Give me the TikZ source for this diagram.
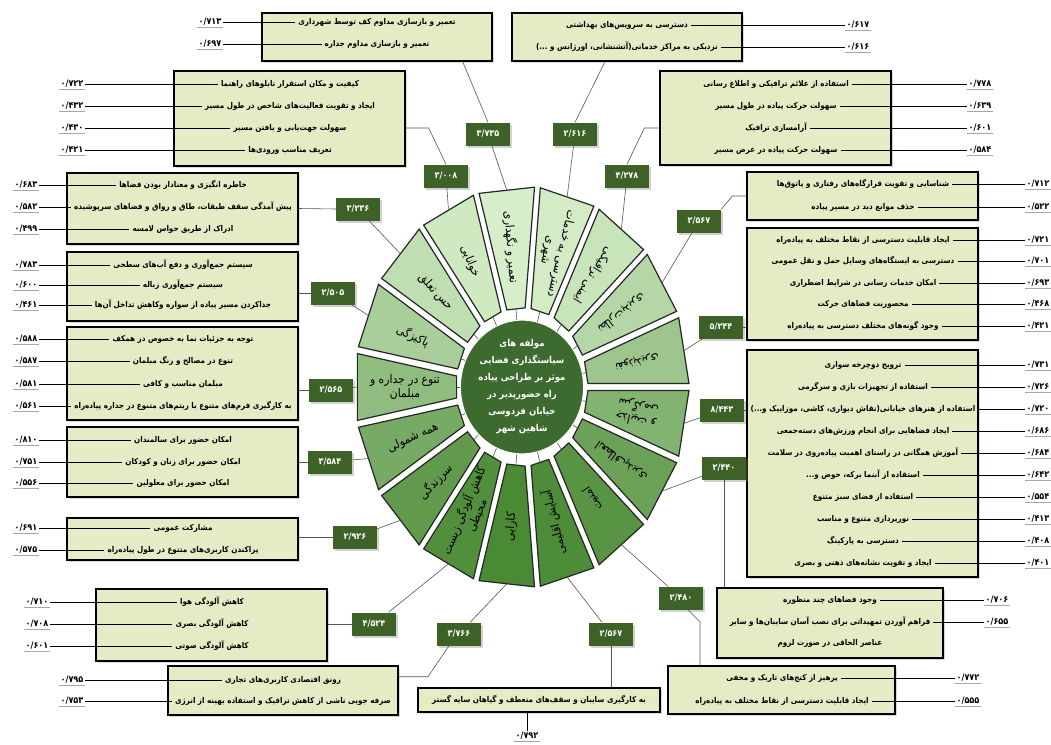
\documentclass[tikz,border=0pt]{standalone}
\usepackage{fontspec}
\usepackage{xcolor}
\usepackage{tikz}
\usetikzlibrary{shapes.geometric,shadows}
\TeXXeTstate=1
\newfontfamily\farsi[Script=Arabic]{DejaVu Sans Condensed}
\newcommand\rtltxt[1]{{\farsi\beginR#1\endR}}
\definecolor{seglight}{HTML}{D6EEC9}
\definecolor{segdark}{HTML}{4A8A35}
\definecolor{valgreen}{HTML}{3E6128}
\definecolor{critfill}{HTML}{E5EBC5}
\definecolor{corefill}{HTML}{3D6A2F}
\definecolor{linegray}{HTML}{555555}

\begin{document}
\begin{tikzpicture}[x=1pt,y=-1pt,
  crit/.style={draw=black,line width=1.3pt,fill=critfill,inner sep=0pt,
    drop shadow={shadow xshift=2pt,shadow yshift=-2pt,opacity=.3}},
  valbox/.style={fill=valgreen,text=white,inner sep=1pt,
    font=\farsi\bfseries\fontsize{9}{11}\selectfont,
    minimum width=44pt,minimum height=23pt,
    drop shadow={shadow xshift=2pt,shadow yshift=-2pt,opacity=.35}},
  item/.style={font=\bfseries\fontsize{8}{10}\selectfont,inner sep=3pt},
  load/.style={font=\farsi\bfseries\fontsize{9}{11}\selectfont,inner sep=1.5pt,
    append after command={(\tikzlastnode.south west) edge[draw=gray!70,line width=.8pt] (\tikzlastnode.south east)}},
  tie/.style={line width=.9pt},
  conn/.style={draw=linegray,line width=.6pt},
  seglabel/.style={font=\fontsize{12}{14}\selectfont,align=center,inner sep=0pt},
]
\fill[white] (0,0) rectangle (1051,744);
\useasboundingbox (0,0) rectangle (1051,744);

% wheel
\begin{scope}[shift={(522,387)},yscale=-1.2]
\foreach \a/\txt [count=\k from 0] in {
  95.3/{\rtltxt{تعمیر و نگهداری}},
  74.1/{\rtltxt{دسترسی به خدمات}\\\rtltxt{شهری}},
  52.9/{\rtltxt{ایمنی ترافیکی}},
  31.8/{\rtltxt{نظارت‌پذیری}},
  10.6/{\rtltxt{نفوذپذیری}},
  -10.6/{\rtltxt{جذابیت و}\\\rtltxt{سرگرمی}},
  -31.8/{\rtltxt{انعطاف‌پذیری}},
  -52.9/{\rtltxt{امنیت}},
  -74.1/{\rtltxt{آسایش اقلیمی}},
  -95.3/{\rtltxt{کارایی}},
  -116.5/{\rtltxt{کاهش آلودگی زیست}\\\rtltxt{محیطی}},
  -137.6/{\rtltxt{سرزندگی}},
  -158.8/{\rtltxt{همه شمولی}},
  -180/{\rtltxt{تنوع در جداره و}\\\rtltxt{مبلمان}},
  158.8/{\rtltxt{پاکیزگی}},
  137.6/{\rtltxt{حس تعلق}},
  116.5/{\rtltxt{خوانایی}}}{
  \pgfmathsetmacro\mixp{50*(1-sin(\a))}
  \pgfmathsetmacro\rot{atan2(1.2*sin(\a),cos(\a))-180}
  \filldraw[draw=black!85,line width=1.2pt,fill=segdark!\mixp!seglight]
    ({\a-8}:66) -- ({\a-9.6}:167) -- ({\a+9.6}:167) -- ({\a+8}:66) -- cycle;
  \coordinate (segin\k) at (\a:65);
  \coordinate (segout\k) at (\a:164.7);
  \node[seglabel,rotate=\rot] (seg\k) at (\a:117) {\txt};
}
\end{scope}

\node[ellipse,fill=corefill,draw=white,line width=1pt,minimum width=94pt,minimum height=112pt,
  inner sep=0pt,text=white,align=center,font=\bfseries\fontsize{9.5}{17}\selectfont] (core) at (522,387)
  {\rtltxt{مولفه های}\\\rtltxt{سیاستگذاری فضایی}\\\rtltxt{موثر بر طراحی پیاده}\\\rtltxt{راه حضورپذیر در}\\\rtltxt{خیابان فردوسی}\\\rtltxt{شاهین شهر}};
\foreach \k in {0,...,16} \draw[conn] (core) -- (segin\k);

% criteria boxes
\node[crit,minimum width=230pt,minimum height=48pt] (boxA) at (377,37) {};
\node[crit,minimum width=230pt,minimum height=48pt] (boxB) at (627,37) {};
\node[crit,minimum width=231pt,minimum height=95pt] (boxC) at (289.5,118.5) {};
\node[crit,minimum width=231pt,minimum height=94pt] (boxD) at (775.5,118) {};
\node[crit,minimum width=231pt,minimum height=71pt] (boxE) at (182.5,208.5) {};
\node[crit,minimum width=231pt,minimum height=48pt] (boxF) at (862.5,196) {};
\node[crit,minimum width=231pt,minimum height=112pt] (boxG) at (862.5,284) {};
\node[crit,minimum width=231pt,minimum height=69pt] (boxQ) at (182.5,286.5) {};
\node[crit,minimum width=231pt,minimum height=93pt] (boxP) at (182.5,373.5) {};
\node[crit,minimum width=231pt,minimum height=70pt] (boxO) at (182.5,462) {};
\node[crit,minimum width=231pt,minimum height=42pt] (boxN) at (182.5,539) {};
\node[crit,minimum width=231pt,minimum height=227pt] (boxH) at (862.5,463.5) {};
\node[crit,minimum width=226pt,minimum height=70pt] (boxI) at (830,623) {};
\node[crit,minimum width=227pt,minimum height=48pt] (boxJ) at (781.5,690) {};
\node[crit,minimum width=242pt,minimum height=24pt] (boxK) at (539,700) {};
\node[crit,minimum width=230pt,minimum height=49pt] (boxL) at (283,690.5) {};
\node[crit,minimum width=231pt,minimum height=72pt] (boxM) at (211.5,625) {};

% items and loadings
\foreach \cx/\lx/\y/\txt/\val [count=\i] in {
  377/210/22/{تعمیر و بازسازی مداوم کف توسط شهرداری}/{۰/۷۱۳},
  377/210/44/{تعمیر و بازسازی مداوم جداره}/{۰/۶۹۷},
  627/858/25/{دسترسی به سرویس‌های بهداشتی}/{۰/۶۱۷},
  627/858/47/{نزدیکی به مراکز خدماتی(آتشنشانی، اورژانس و ...)}/{۰/۶۱۶},
  290/72/84/{کیفیت و مکان استقرار تابلوهای راهنما}/{۰/۷۲۲},
  290/72/106/{ایجاد و تقویت فعالیت‌های شاخص در طول مسیر}/{۰/۴۳۲},
  290/72/128/{سهولت جهت‌یابی و یافتن مسیر}/{۰/۴۳۰},
  290/72/150/{تعریف مناسب ورودی‌ها}/{۰/۴۲۱},
  776/980/84/{استفاده از علائم ترافیکی و اطلاع رسانی}/{۰/۷۷۸},
  776/980/106/{سهولت حرکت پیاده در طول مسیر}/{۰/۶۳۹},
  776/980/128/{آرامسازی ترافیک}/{۰/۶۰۱},
  776/980/150/{سهولت حرکت پیاده در عرض مسیر}/{۰/۵۸۴},
  183/26/185/{خاطره انگیزی و معنادار بودن فضاها}/{۰/۶۸۳},
  183/26/207/{پیش آمدگی سقف طبقات، طاق و رواق و فضاهای سرپوشیده}/{۰/۵۸۲},
  183/26/229/{ادراک از طریق حواس لامسه}/{۰/۴۹۹},
  863/1038/184/{شناسایی و تقویت قرارگاه‌های رفتاری و پاتوق‌ها}/{۰/۷۱۲},
  863/1038/207/{حذف موانع دید در مسیر پیاده}/{۰/۵۲۲},
  863/1038/240/{ایجاد قابلیت دسترسی از نقاط مختلف به پیاده‌راه}/{۰/۷۲۱},
  863/1038/261/{دسترسی به ایستگاه‌های وسایل حمل و نقل عمومی}/{۰/۷۰۱},
  863/1038/283/{امکان خدمات رسانی در شرایط اضطراری}/{۰/۶۹۳},
  863/1038/304/{محصوریت فضاهای حرکت}/{۰/۴۶۸},
  863/1038/326/{وجود گونه‌های مختلف دسترسی به پیاده‌راه}/{۰/۴۲۱},
  183/26/265/{سیستم جمع‌آوری و دفع آب‌های سطحی}/{۰/۷۸۳},
  183/26/285/{سیستم جمع‌آوری زباله}/{۰/۶۰۰},
  183/26/305/{جداکردن مسیر پیاده از سواره وکاهش تداخل آن‌ها}/{۰/۴۶۱},
  183/26/339/{توجه به جزئیات نما به خصوص در همکف}/{۰/۵۸۸},
  183/26/361/{تنوع در مصالح و رنگ مبلمان}/{۰/۵۸۷},
  183/26/384/{مبلمان مناسب و کافی}/{۰/۵۸۱},
  183/26/406/{به کارگیری فرم‌های متنوع با ریتم‌های متنوع در جداره پیاده‌راه}/{۰/۵۶۱},
  183/26/440/{امکان حضور برای سالمندان}/{۰/۸۱۰},
  183/26/462/{امکان حضور برای زنان و کودکان}/{۰/۷۵۱},
  183/26/483/{امکان حضور برای معلولین}/{۰/۵۵۶},
  183/26/528/{مشارکت عمومی}/{۰/۶۹۱},
  183/26/550/{پراکندن کاربری‌های متنوع در طول پیاده‌راه}/{۰/۵۷۵},
  863/1038/365/{ترویج دوچرخه سواری}/{۰/۷۳۱},
  863/1038/387/{استفاده از تجهیزات بازی و سرگرمی}/{۰/۷۲۶},
  863/1038/409/{استفاده از هنرهای خیابانی(نقاش دیواری، کاشی، موزاییک و...)}/{۰/۷۲۰},
  863/1038/431/{ایجاد فضاهایی برای انجام ورزش‌های دسته‌جمعی}/{۰/۶۸۶},
  863/1038/453/{آموزش همگانی در راستای اهمیت پیاده‌روی در سلامت}/{۰/۶۸۴},
  863/1038/475/{استفاده از آبنما برکه، حوض و...}/{۰/۶۴۲},
  863/1038/497/{استفاده از فضای سبز متنوع}/{۰/۵۵۴},
  863/1038/519/{نورپردازی متنوع و مناسب}/{۰/۴۱۳},
  863/1038/541/{دسترسی به پارکینگ}/{۰/۴۰۸},
  863/1038/563/{ایجاد و تقویت نشانه‌های ذهنی و بصری}/{۰/۴۰۱},
  830/997/600/{وجود فضاهای چند منظوره}/{۰/۷۰۶},
  830/997/622/{فراهم آوردن تمهیداتی برای نصب آسان سایبان‌ها و سایر}/{۰/۶۵۵},
  782/968/678/{پرهیز از کنج‌های تاریک و مخفی}/{۰/۷۷۲},
  782/968/701/{ایجاد قابلیت دسترسی از نقاط مختلف به پیاده‌راه}/{۰/۵۵۵},
  283/72/680/{رونق اقتصادی کاربری‌های تجاری}/{۰/۷۹۵},
  283/72/701/{صرفه جویی ناشی از کاهش ترافیک و استفاده بهینه از انرژی}/{۰/۷۵۳},
  212/37/602/{کاهش آلودگی هوا}/{۰/۷۱۰},
  212/37/624/{کاهش آلودگی بصری}/{۰/۷۰۸},
  212/37/646/{کاهش آلودگی صوتی}/{۰/۶۰۱}}{
  \node[item] (it\i) at (\cx,\y) {\rtltxt{\txt}};
  \node[load] (ld\i) at (\lx,\y) {\val};
  \draw[tie] (ld\i) -- (it\i);
}
\node[item] (i3) at (830,643) {\rtltxt{عناصر الحاقی در صورت لزوم}};
\node[item] (k1) at (539,700) {\rtltxt{به کارگیری سایبان و سقف‌های منعطف و گیاهان سایه گستر}};
\node[load] (kload) at (527,736) {۰/۷۹۲};
\draw[tie] (kload.north |- boxK.south) -- (kload.north);

% values of the components
\node[valbox] (v0) at (488,134) {۳/۷۳۵};
\node[valbox] (v1) at (575,134) {۲/۶۱۶};
\node[valbox] (v2) at (627,176) {۴/۲۷۸};
\node[valbox] (v3) at (699,221) {۲/۵۶۷};
\node[valbox] (v4) at (721,327) {۵/۲۴۴};
\node[valbox] (v5) at (722,410) {۸/۴۴۳};
\node[valbox] (v6) at (724,468) {۲/۴۴۰};
\node[valbox] (v7) at (681,598) {۲/۴۸۰};
\node[valbox] (v8) at (611,634) {۲/۵۶۷};
\node[valbox] (v9) at (459,634) {۳/۷۶۶};
\node[valbox] (v10) at (374,624) {۴/۵۲۴};
\node[valbox] (v11) at (355,537) {۲/۹۲۶};
\node[valbox] (v12) at (330,462) {۳/۵۸۴};
\node[valbox] (v13) at (331,390) {۲/۵۶۵};
\node[valbox] (v14) at (333,293) {۲/۵۰۵};
\node[valbox] (v15) at (358,209) {۳/۲۳۶};
\node[valbox] (v16) at (446,176) {۳/۰۰۸};
\foreach \k in {0,...,16} \draw[conn] (v\k) -- (segout\k);

% links from boxes to values
\draw[conn] ([xshift=-30pt]boxA.south east) -- (v0.north);
\draw[conn] ([xshift=-22pt]boxB.south) -- (v1.north);
\draw[conn] ([yshift=-9.5pt]boxC.east) -- ++(23,0) -- (v16.north);
\draw[conn] ([yshift=-10pt]boxD.west) -- ++(-15,0) -- (v2.north);
\draw[conn] (boxE.east) -- (v15.west);
\draw[conn] (boxF.west) -- ++(-14,0) -- (v3.north east);
\draw[conn] (v4.east) -- (v4.east -| boxG.west);
\draw[conn] (v5.east) -- (v5.east -| boxH.west);
\draw[conn] (v6.south) -- (v6.south |- boxI.north);
\draw[conn] ([xshift=7pt]v7.south) -- ++(12,12) coordinate (v7bend) -- (v7bend |- boxJ.north);
\draw[conn] (v8.south) -- (v8.south |- boxK.north);
\draw[conn] ([xshift=-10pt]v9.south) -- ++(-21,31) coordinate (v9bend) -- (v9bend -| boxL.east);
\draw[conn] (v10.west -| boxM.east) -- (v10.west);
\draw[conn] (v11.west -| boxN.east) -- (v11.west);
\draw[conn] (v12.west -| boxO.east) -- (v12.west);
\draw[conn] (v13.west -| boxP.east) -- (v13.west);
\draw[conn] (v14.west -| boxQ.east) -- (v14.west);
\end{tikzpicture}
\end{document}
